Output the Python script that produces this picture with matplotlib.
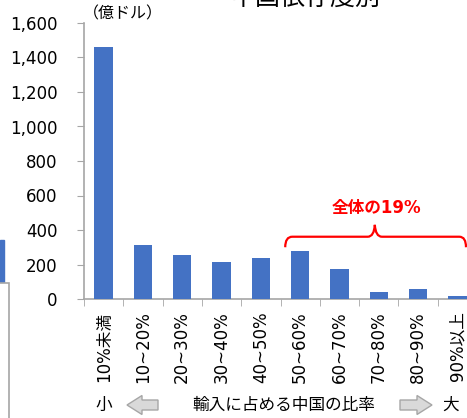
import matplotlib
matplotlib.use("Agg")
import matplotlib.pyplot as plt
from matplotlib.path import Path
from matplotlib.patches import PathPatch, Polygon, Rectangle

plt.rcParams['font.family'] = ['DejaVu Sans', 'Noto Sans CJK JP']

# imports from China, by share of China in the item's imports
categories = ["10%未満", "10~20%", "20~30%", "30~40%", "40~50%",
              "50~60%", "60~70%", "70~80%", "80~90%", "90%以上"]
values = [1460, 313, 255, 213, 240, 278, 172, 42, 58, 16]
yticks = [0, 200, 400, 600, 800, 1000, 1200, 1400, 1600]

bar_color = "#4472C4"
axis_color = "#A6A6A6"
W, H = 467, 418

fig = plt.figure(figsize=(W / 100, H / 100), dpi=100)

def fx(px):
    return px / W

def fy(py):
    return 1 - py / H

ax = fig.add_axes([fx(84), fy(299), (477 - 84) / W, 276 / H])
x = range(len(values))
ax.bar(x, values, width=0.47, color=bar_color, zorder=3)

ax.set_xlim(-0.5, len(values) - 0.5)
ax.set_ylim(0, 1600)
ax.set_yticks(yticks)
ax.set_yticklabels([f"{v:,}" for v in yticks], fontsize=12)
ax.set_xticks(list(x))
ax.set_xticklabels(categories, rotation=90, fontsize=12, va="top")
ax.set_xticks([i + 0.5 for i in range(-1, len(values))], minor=True)
ax.tick_params(axis="x", which="major", length=0, pad=9)
ax.tick_params(axis="x", which="minor", length=5, color=axis_color, direction="out")
ax.tick_params(axis="y", length=5, color=axis_color, pad=14)
for s in ("top", "right"):
    ax.spines[s].set_visible(False)
for s in ("left", "bottom"):
    ax.spines[s].set_color(axis_color)
    ax.spines[s].set_linewidth(1.2)

# red brace over the 50% and above groups
verts = [(4.62, 300), (4.62, 361), (4.80, 361), (6.72, 361),
         (6.88, 361), (6.90, 430), (6.92, 361), (7.08, 361),
         (9.05, 361), (9.22, 361), (9.22, 300)]
codes = [Path.MOVETO, Path.CURVE3, Path.CURVE3, Path.LINETO,
         Path.CURVE3, Path.CURVE3, Path.CURVE3, Path.CURVE3,
         Path.LINETO, Path.CURVE3, Path.CURVE3]
ax.add_patch(PathPatch(Path(verts, codes), fill=False, edgecolor="red",
                       lw=1.6, clip_on=False, zorder=4))
ax.text(6.95, 530, "全体の19%", color="red", fontsize=12, fontweight="bold",
        ha="center", va="center")

# title and unit
fig.text(fx(306), fy(5), "中国依存度別", fontsize=18, ha="center", va="baseline")
fig.text(fx(83), fy(14), "（億ドル）", fontsize=11.5, ha="left", va="center")

# bottom caption with arrows
fig.text(fx(104), fy(405), "小", fontsize=12, ha="center", va="center")
fig.text(fx(284), fy(405), "輸入に占める中国の比率", fontsize=12, ha="center", va="center")
fig.text(fx(451), fy(405), "大", fontsize=12, ha="center", va="center")

def block_arrow(x0, x1, yc, left):
    head = 15
    hh, th = 9.5, 5
    if left:
        pts = [(x0, yc), (x0 + head, yc - hh), (x0 + head, yc - th), (x1, yc - th),
               (x1, yc + th), (x0 + head, yc + th), (x0 + head, yc + hh)]
    else:
        pts = [(x1, yc), (x1 - head, yc - hh), (x1 - head, yc - th), (x0, yc - th),
               (x0, yc + th), (x1 - head, yc + th), (x1 - head, yc + hh)]
    fig.patches.append(Polygon([(fx(a), fy(b)) for a, b in pts], closed=True,
                               transform=fig.transFigure, facecolor="#D9D9D9",
                               edgecolor="#A6A6A6", lw=1))

block_arrow(127, 158, 405, True)
block_arrow(400, 432, 405, False)

# neighbouring panel edge
fig.patches.append(Rectangle((0, fy(283)), fx(4), fy(240) - fy(283),
                             transform=fig.transFigure, color=bar_color))
fig.patches.append(Rectangle((-0.05, -0.05), fx(9) + 0.05, fy(283) + 0.05,
                             transform=fig.transFigure, facecolor="white",
                             edgecolor=axis_color, lw=1.2))

fig.savefig("out.png", dpi=100)
